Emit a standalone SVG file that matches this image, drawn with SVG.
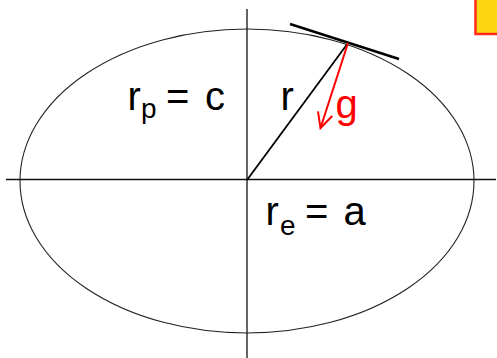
<svg xmlns="http://www.w3.org/2000/svg" width="497" height="358" viewBox="0 0 497 358">
<style>
.lbl{font-family:"Liberation Sans",Arial,sans-serif;font-size:40px;fill:#000}
.sub{font-size:28px}
.red{fill:#ff0000}
.ax{stroke:#111;stroke-width:1.3;fill:none}
</style>
<defs>
<marker id="arr" markerUnits="userSpaceOnUse" markerWidth="20" markerHeight="20" viewBox="-17 -10 20 20" refX="0" refY="0" orient="auto" overflow="visible">
<path d="M-15,-7.5 L0,0 L-15,7.5" fill="none" stroke="#ff0000" stroke-width="2"/>
</marker>
</defs>
<rect width="497" height="358" fill="#fff"/>
<g id="orbit">
<ellipse cx="247" cy="181" rx="227" ry="152" fill="none" stroke="#222" stroke-width="1.1"/>
</g>
<g id="axes">
<line class="ax" x1="6" y1="179.5" x2="496" y2="179.5"/>
<line class="ax" x1="247" y1="9" x2="247" y2="358"/>
</g>
<g id="connectors">
<line x1="247" y1="180" x2="348" y2="43" stroke="#000" stroke-width="1.8"/>
<line x1="290" y1="24" x2="399" y2="59" stroke="#000" stroke-width="2.5"/>
<line x1="348" y1="43" x2="320.5" y2="128" stroke="#ff0000" stroke-width="2" marker-end="url(#arr)"/>
</g>
<g id="label-rp">
<text class="lbl" x="127.5" y="110">r</text>
<text class="lbl sub" x="141" y="117.5">p</text>
<text class="lbl" x="166" y="110">=</text>
<text class="lbl" x="205" y="110">c</text>
</g>
<g id="label-re">
<text class="lbl" x="265.5" y="225">r</text>
<text class="lbl sub" x="280" y="235">e</text>
<text class="lbl" x="305" y="225">=</text>
<text class="lbl" x="343.5" y="225">a</text>
</g>
<g id="label-r">
<text class="lbl" x="280.5" y="110">r</text>
</g>
<g id="label-g">
<text class="lbl red" x="335.5" y="118">g</text>
</g>
<g id="corner-box">
<rect x="475.5" y="-5" width="30" height="39" fill="#fdd812" stroke="#ff2a1a" stroke-width="2.5"/>
</g>
</svg>
